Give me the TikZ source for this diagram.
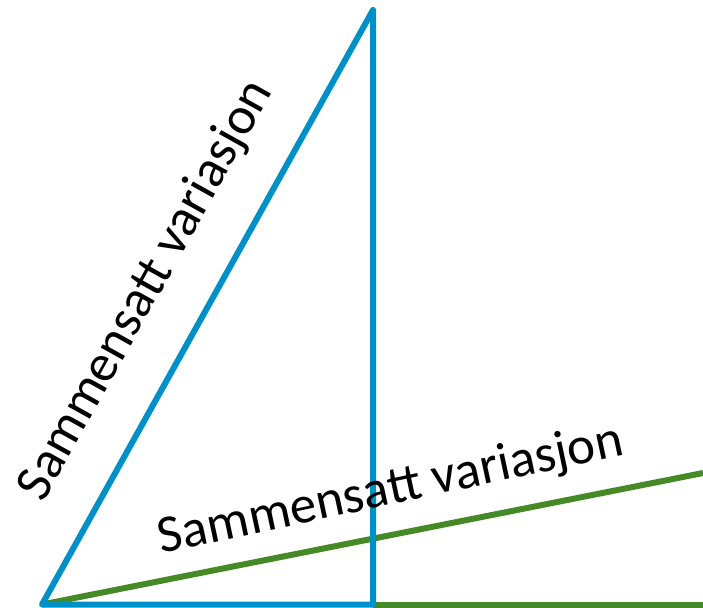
\documentclass[tikz,border=0pt]{standalone}
\usepackage{fontspec}
\setmainfont{Carlito}
\usepackage{xcolor}
\definecolor{SVBlue}{HTML}{0090C8}
\definecolor{SVGreen}{HTML}{468A28}

\begin{document}
\begin{tikzpicture}[x=0.75pt,y=0.75pt]
\path[use as bounding box] (0,0) rectangle (703,607);
\coordinate (origo) at (42,2.5);
\coordinate (topp) at (373,597);
\coordinate (fot) at (373,2.5);
\coordinate (hoyre) at (703,2.5);
\coordinate (gronnslutt) at (703,134);
\draw[SVGreen,line width=4.5pt] (origo) -- (gronnslutt);
\draw[SVGreen,line width=4.5pt] (fot) -- (hoyre);
\draw[SVBlue,line width=4.5pt,line join=round] (fot) -- (topp) -- (origo) -- cycle;
\path (origo) -- (topp) node[pos=.478,sloped,anchor=base,yshift=36pt] (tekstbla) {\fontsize{39.6}{47}\selectfont Sammensatt variasjon};
\path (origo) -- (gronnslutt) node[pos=.541,sloped,anchor=base,yshift=22.5pt,rotate=.8] (tekstgronn) {\fontsize{39.8}{47}\selectfont Sammensatt variasjon};
\end{tikzpicture}
\end{document}
